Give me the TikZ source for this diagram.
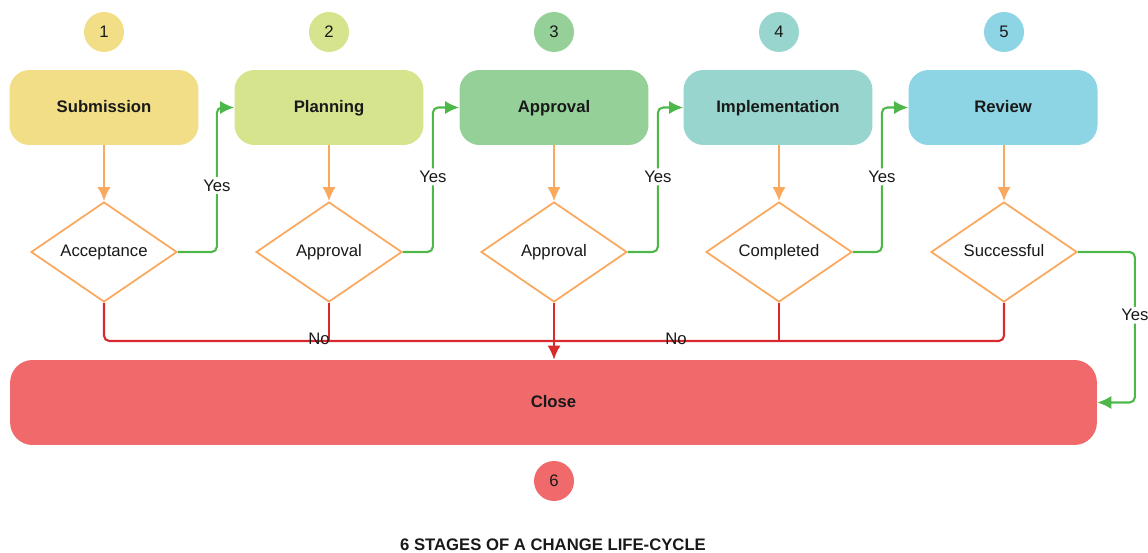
\documentclass[tikz,border=0pt]{standalone}
\usepackage{fontspec}
\setmainfont{Liberation Sans}
\usetikzlibrary{arrows.meta,shapes.geometric}

\definecolor{subm}{HTML}{F1DE87}
\definecolor{plan}{HTML}{D6E48E}
\definecolor{appr}{HTML}{94D098}
\definecolor{impl}{HTML}{97D5CE}
\definecolor{revw}{HTML}{8DD5E5}
\definecolor{clos}{HTML}{F06A6C}
\definecolor{flow}{HTML}{FBA85F}
\definecolor{yesgreen}{HTML}{4DB849}
\definecolor{nored}{HTML}{D72A2E}

\begin{document}
\begin{tikzpicture}[x=0.02cm,y=-0.02cm,
  every node/.style={font=\fontsize{9.5}{11}\selectfont, text=black!90},
  stage/.style={rounded corners=0.4cm, minimum width=3.78cm, minimum height=1.5cm,
    text height=1.5ex, text depth=0.5ex,
    font=\fontsize{9.5}{11}\selectfont\bfseries},
  decision/.style={diamond, aspect=1.46, draw=flow, line width=1pt, fill=white,
    minimum width=2.92cm, minimum height=2cm, inner sep=0pt,
    text height=1.5ex, text depth=0.5ex},
  number/.style={circle, minimum size=0.8cm, inner sep=0pt},
  tip/.style={-{Latex[length=8pt,width=7.5pt]}},
  stepline/.style={draw=flow, line width=1.2pt, tip},
  yesline/.style={draw=yesgreen, line width=1.2pt, rounded corners=3pt, tip},
  noline/.style={draw=nored, line width=1.2pt, rounded corners=3pt},
  lbl/.style={fill=white, inner sep=1.5pt}]
  %uncomment to see the pixel grid used for placing things:
  %\draw[dotted,step=50,black,very thin] (0,0) grid (1148,553);
  \useasboundingbox (0,0) rectangle (1148,553);

  % stage numbers
  \node[number, fill=subm] (n1) at (104,32) {1};
  \node[number, fill=plan] (n2) at (329,32) {2};
  \node[number, fill=appr] (n3) at (554,32) {3};
  \node[number, fill=impl] (n4) at (779,32) {4};
  \node[number, fill=revw] (n5) at (1004,32) {5};
  \node[number, fill=clos] (n6) at (554,481) {6};

  % stage boxes
  \node[stage, fill=subm] (s1) at (104,107.5) {Submission};
  \node[stage, fill=plan] (s2) at (329,107.5) {Planning};
  \node[stage, fill=appr] (s3) at (554,107.5) {Approval};
  \node[stage, fill=impl] (s4) at (778,107.5) {Implementation};
  \node[stage, fill=revw] (s5) at (1003,107.5) {Review};
  \node[stage, fill=clos, minimum width=21.74cm, minimum height=1.7cm,
    rounded corners=0.45cm] (close) at (553.5,402.5) {Close};

  % decisions
  \node[decision] (q1) at (104,252) {Acceptance};
  \node[decision] (q2) at (329,252) {Approval};
  \node[decision] (q3) at (554,252) {Approval};
  \node[decision] (q4) at (779,252) {Completed};
  \node[decision] (q5) at (1004,252) {Successful};

  % stage -> decision
  \draw[stepline] (s1) -- (q1);
  \draw[stepline] (s2) -- (q2);
  \draw[stepline] (s3) -- (q3);
  \draw[stepline] (s4.south -| q4) -- (q4);
  \draw[stepline] (s5.south -| q5) -- (q5);

  % yes branches go to the next stage
  \draw[yesline] (q1.east) -- ++(39,0) |- node[lbl,pos=0.23] {Yes} (s2.west);
  \draw[yesline] (q2.east) -- ++(30,0) |- node[lbl,pos=0.26] {Yes} (s3.west);
  \draw[yesline] (q3.east) -- ++(30,0) |- node[lbl,pos=0.26] {Yes} (s4.west);
  \draw[yesline] (q4.east) -- ++(29,0) |- node[lbl,pos=0.26] {Yes} (s5.west);
  \draw[yesline] (q5.east) -- ++(57,0) |- node[lbl,pos=0.21] {Yes} (close.east);

  % no branches share one bus down to close
  \coordinate (bus) at (0,341);
  \draw[noline] (q1.south) |- (q5.south |- bus) -- (q5.south);
  \draw[noline] (q2.south) -- (q2.south |- bus);
  \draw[noline] (q4.south) -- (q4.south |- bus);
  \draw[noline, tip] (q3.south) -- (q3.south |- close.north);
  \node (no1) at (319,339) {No};
  \node (no2) at (676,339) {No};

  % caption
  \node[font=\fontsize{9.5}{11}\selectfont\bfseries] (title) at (553,545)
    {6 STAGES OF A CHANGE LIFE-CYCLE};
\end{tikzpicture}
\end{document}
